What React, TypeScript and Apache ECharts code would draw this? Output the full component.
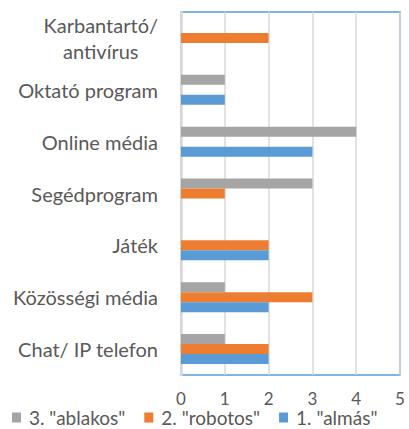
import React, { useEffect, useRef } from "react";
import * as echarts from "echarts";

const categories = [
  "Chat/ IP telefon",
  "Közösségi média",
  "Játék",
  "Segédprogram",
  "Online média",
  "Oktató program",
  "Karbantartó/\nantivírus",
];
const almas = [2, 2, 2, 0, 3, 1, 0];
const robotos = [2, 3, 2, 1, 0, 0, 2];
const ablakos = [1, 1, 0, 3, 4, 1, 0];
const seriesNames = ['1. "almás"', '2. "robotos"', '3. "ablakos"'];
const xTicks = [0, 1, 2, 3, 4, 5];

const FONT = "Lato";
const TEXT = "#595959";

export default function App() {
  const ref = useRef<HTMLDivElement>(null);
  useEffect(() => {
    if (!ref.current) return;
    const chart = echarts.init(ref.current, null, { renderer: "svg" });
    const barStyle = { barWidth: 10, barGap: "0%" };
    chart.setOption({
      animation: false,
      grid: {
        left: 181,
        right: 9,
        top: 12,
        bottom: 54,
        show: true,
        borderColor: "#5B9BD5",
        borderWidth: 1.5,
      },
      legend: {
        data: [seriesNames[2], seriesNames[1], seriesNames[0]],
        orient: "horizontal",
        left: 7,
        bottom: 2,
        width: 460,
        padding: [0, 5, 0, 5],
        itemWidth: 9,
        itemHeight: 10,
        itemGap: 19,
        icon: "rect",
        textStyle: {
          fontFamily: FONT,
          fontSize: 19,
          lineHeight: 19,
          color: TEXT,
          padding: [0, 0, 0, 3],
        },
      },
      xAxis: {
        type: "value",
        min: xTicks[0],
        max: xTicks[xTicks.length - 1],
        interval: 1,
        axisLine: { show: false },
        axisTick: { show: false },
        splitLine: { lineStyle: { color: "#D9D9D9", width: 1.5 } },
        axisLabel: { fontFamily: FONT, fontSize: 17, lineHeight: 17, color: TEXT, margin: 15 },
      },
      yAxis: {
        type: "category",
        data: categories,
        axisLine: { show: true, lineStyle: { color: "#D9D9D9", width: 2.5 } },
        axisTick: { show: false },
        axisLabel: {
          fontFamily: FONT,
          fontSize: 20,
          color: TEXT,
          margin: 23,
          lineHeight: 26,
          formatter: (v: string) =>
            v.indexOf("\n") >= 0
              ? v.split("\n").map((s) => "{c|" + s + "}").join("\n")
              : v,
          rich: {
            c: { align: "center", fontFamily: FONT, fontSize: 20, color: TEXT, lineHeight: 26 },
          },
        },
      },
      series: [
        { name: seriesNames[2], type: "bar", data: ablakos, itemStyle: { color: "#A5A5A5" }, ...barStyle },
        { name: seriesNames[1], type: "bar", data: robotos, itemStyle: { color: "#ED7D31" }, ...barStyle },
        { name: seriesNames[0], type: "bar", data: almas, itemStyle: { color: "#5B9BD5" }, ...barStyle },
      ],
    });
    return () => chart.dispose();
  }, []);
  return <div ref={ref} style={{ width: 409, height: 429, position: "absolute", left: 0, top: 0 }} />;
}
